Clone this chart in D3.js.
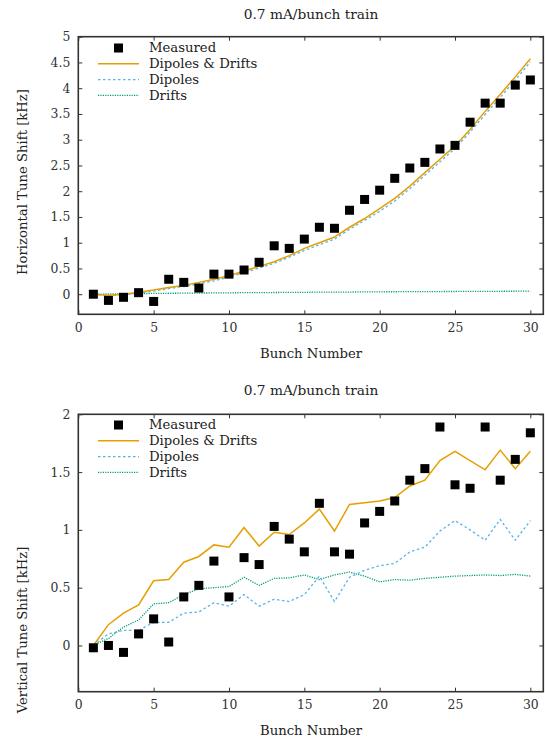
<!DOCTYPE html>
<html><head><meta charset="utf-8">
<script src="https://cdn.jsdelivr.net/npm/d3@7/dist/d3.min.js"></script>
<style>
html,body{margin:0;padding:0;background:#fff;}
svg{display:block;}
</style></head>
<body>
<script>
// ---------- data ----------
const bunches = d3.range(1, 31);
const titleText = "0.7 mA/bunch train";
const xLabel = "Bunch Number";
const yLabelH = "Horizontal Tune Shift [kHz]";
const yLabelV = "Vertical Tune Shift [kHz]";
const legendNames = ["Measured", "Dipoles & Drifts", "Dipoles", "Drifts"];
const xTicks = [0, 5, 10, 15, 20, 25, 30];
const yTicksH = [0, 0.5, 1, 1.5, 2, 2.5, 3, 3.5, 4, 4.5, 5];
const yTicksV = [0, 0.5, 1, 1.5, 2];

const measuredH = [0.00,-0.12,-0.06,0.03,-0.14,0.29,0.23,0.12,0.39,0.39,0.47,0.62,0.94,0.89,1.07,1.30,1.28,1.63,1.84,2.02,2.25,2.45,2.56,2.82,2.89,3.34,3.71,3.71,4.06,4.16];
const bothH = [0.00,-0.02,0.00,0.04,0.08,0.13,0.17,0.23,0.29,0.36,0.45,0.54,0.63,0.75,0.89,1.00,1.11,1.30,1.47,1.66,1.86,2.10,2.36,2.62,2.88,3.20,3.55,3.88,4.22,4.57];
const dipolesH = [0.00,-0.03,-0.01,0.02,0.06,0.11,0.15,0.20,0.26,0.33,0.42,0.51,0.60,0.72,0.85,0.96,1.07,1.26,1.43,1.61,1.81,2.05,2.31,2.57,2.83,3.15,3.49,3.82,4.16,4.51];
const driftsH = [0.000,0.005,0.010,0.012,0.015,0.018,0.020,0.022,0.025,0.027,0.030,0.030,0.033,0.035,0.037,0.040,0.040,0.042,0.045,0.047,0.048,0.050,0.050,0.052,0.053,0.055,0.056,0.057,0.058,0.060];

const measuredV = [-0.02,0.00,-0.06,0.10,0.23,0.03,0.42,0.52,0.73,0.42,0.76,0.70,1.03,0.92,0.81,1.23,0.81,0.79,1.06,1.16,1.25,1.43,1.53,1.89,1.39,1.36,1.89,1.43,1.61,1.84];
const bothV = [0.00,0.18,0.28,0.35,0.56,0.57,0.72,0.77,0.87,0.85,1.02,0.86,0.98,0.96,1.06,1.18,0.99,1.22,1.235,1.25,1.28,1.38,1.43,1.60,1.68,1.60,1.52,1.69,1.53,1.68];
const dipolesV = [0.00,0.10,0.13,0.13,0.20,0.20,0.28,0.29,0.37,0.34,0.44,0.34,0.40,0.38,0.44,0.60,0.38,0.59,0.65,0.69,0.71,0.81,0.85,0.99,1.08,1.00,0.91,1.09,0.91,1.08];
const driftsV = [0.00,0.06,0.16,0.22,0.36,0.37,0.44,0.49,0.50,0.51,0.59,0.52,0.58,0.585,0.61,0.57,0.61,0.635,0.60,0.55,0.57,0.565,0.58,0.59,0.60,0.605,0.61,0.605,0.615,0.60];

// ---------- drawing ----------
const W = 545, H = 740;
const FONT = "'DejaVu Serif', 'Liberation Serif', serif";
const svg = d3.select("body").append("svg").attr("width", W).attr("height", H)
  .style("font-family", FONT);

// calibrate font size so text width matches the reference (~108px for the legend string)
const probe = svg.append("text").attr("font-size", 16).attr("font-family", FONT).text("Dipoles & Drifts");
const k = 108.5 / probe.node().getComputedTextLength();
probe.remove();
const fs = s => s * k;

const colBoth = "#E69F00", colDip = "#56B4E9", colDrift = "#009E73";

function panel(cfg) {
  const x = d3.scaleLinear().domain([0, 30.86]).range([78.3, 543.3]);
  const y = d3.scaleLinear().domain(cfg.yDomain).range([cfg.bottom, cfg.top]);
  const g = svg.append("g");

  g.append("text").attr("x", 311).attr("y", cfg.titleY).attr("fill", "#222")
    .attr("text-anchor", "middle").attr("font-size", fs(16.6)).text(titleText);

  const tick = 4;
  const styleAxis = a => {
    a.attr("font-family", FONT);
    a.select(".domain").remove();
    a.selectAll("line").attr("stroke", "#333");
    a.selectAll("text").attr("font-size", fs(15)).attr("fill", "#333");
  };
  g.append("g").attr("transform", `translate(0,${cfg.bottom})`)
    .call(d3.axisBottom(x).tickValues(xTicks).tickSize(-tick).tickPadding(9).tickFormat(d3.format("d")))
    .call(styleAxis);
  g.append("g").attr("transform", `translate(0,${cfg.top})`)
    .call(d3.axisTop(x).tickValues(xTicks).tickSize(-tick).tickFormat(""))
    .call(styleAxis);
  g.append("g").attr("transform", `translate(78.3,0)`)
    .call(d3.axisLeft(y).tickValues(cfg.yTicks).tickSize(-tick).tickPadding(8).tickFormat(d3.format("~g")))
    .call(styleAxis);
  g.append("g").attr("transform", `translate(543.3,0)`)
    .call(d3.axisRight(y).tickValues(cfg.yTicks).tickSize(-tick).tickFormat(""))
    .call(styleAxis);

  g.append("rect").attr("x", 78.3).attr("y", cfg.top)
    .attr("width", 543.3 - 78.3).attr("height", cfg.bottom - cfg.top)
    .attr("fill", "none").attr("stroke", "#333").attr("stroke-width", 1.6);

  g.append("text").attr("x", 311).attr("y", cfg.xLabelY).attr("fill", "#222")
    .attr("text-anchor", "middle").attr("font-size", fs(16)).text(xLabel);
  g.append("text").attr("transform", `translate(27,${cfg.yLabelCY}) rotate(-90)`).attr("fill", "#222")
    .attr("text-anchor", "middle").attr("font-size", fs(16)).text(cfg.yLabel);

  const line = d3.line().x((d, i) => x(bunches[i])).y(d => y(d));
  const series = [
    {v: cfg.drifts, c: colDrift, dash: "1.2,1.2", w: 1.3},
    {v: cfg.dipoles, c: colDip, dash: "2.5,2.5", w: 1.3},
    {v: cfg.both, c: colBoth, dash: null, w: 1.5}
  ];
  series.forEach(s => {
    g.append("path").datum(s.v).attr("d", line).attr("fill", "none")
      .attr("stroke", s.c).attr("stroke-width", s.w)
      .attr("stroke-dasharray", s.dash);
  });

  const sq = 9;
  g.append("g").selectAll("rect").data(cfg.measured).join("rect")
    .attr("x", (d, i) => x(bunches[i]) - sq / 2).attr("y", d => y(d) - sq / 2)
    .attr("width", sq).attr("height", sq).attr("fill", "#000");

  const lg = g.append("g");
  const rowH = 15.8;
  const styles = [null,
    {c: colBoth, dash: null, w: 1.5},
    {c: colDip, dash: "2.5,2.5", w: 1.3},
    {c: colDrift, dash: "1.2,1.2", w: 1.3}];
  legendNames.forEach((name, i) => {
    const yy = cfg.legendY + i * rowH;
    if (i === 0) {
      lg.append("rect").attr("x", 118.5 - sq / 2).attr("y", yy - sq / 2)
        .attr("width", sq).attr("height", sq).attr("fill", "#000");
    } else {
      const s = styles[i];
      lg.append("line").attr("x1", 98).attr("x2", 139).attr("y1", yy).attr("y2", yy)
        .attr("stroke", s.c).attr("stroke-width", s.w).attr("stroke-dasharray", s.dash);
    }
    lg.append("text").attr("x", 149).attr("y", yy).attr("dy", "0.33em").attr("fill", "#222")
      .attr("font-size", fs(16)).text(name);
  });
}

panel({
  top: 36.7, bottom: 314.3, yDomain: [-0.39, 5], yTicks: yTicksH,
  titleY: 19, xLabelY: 358, yLabelCY: 182, yLabel: yLabelH, legendY: 48,
  measured: measuredH, both: bothH, dipoles: dipolesH, drifts: driftsH
});
panel({
  top: 414.3, bottom: 691.7, yDomain: [-0.4, 2], yTicks: yTicksV,
  titleY: 395, xLabelY: 735, yLabelCY: 630, yLabel: yLabelV, legendY: 425,
  measured: measuredV, both: bothV, dipoles: dipolesV, drifts: driftsV
});
</script>
</body></html>
